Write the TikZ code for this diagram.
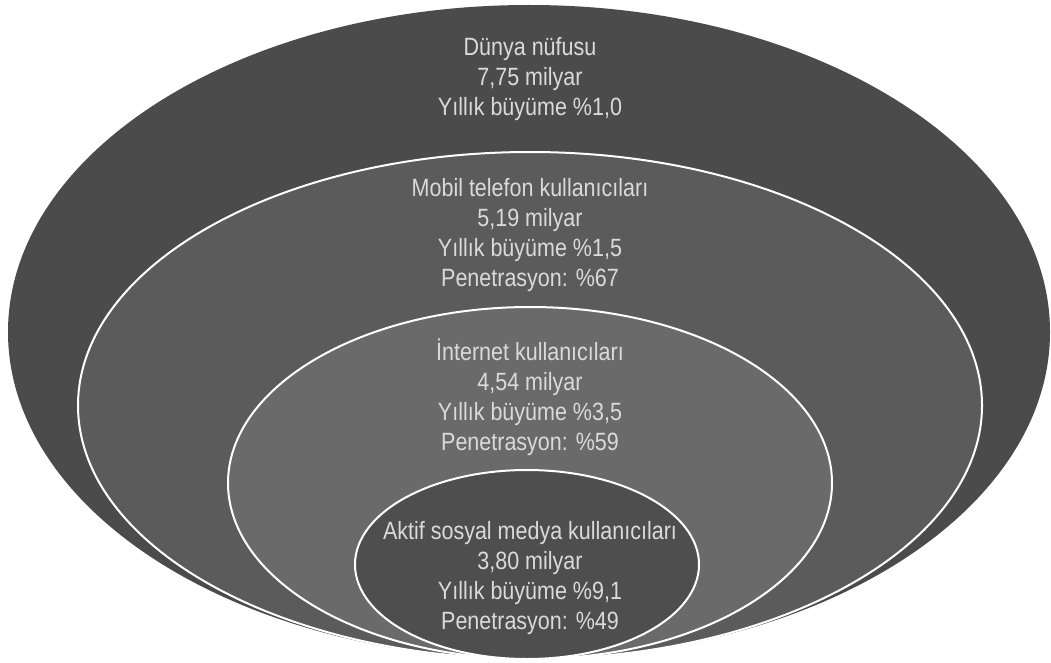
\documentclass[tikz,border=0pt]{standalone}
\usepackage{fontspec}
\setmainfont{Liberation Sans}[FakeStretch=0.86]
\usetikzlibrary{shapes.geometric}
\definecolor{cOuter}{HTML}{4B4B4B}
\definecolor{cMobile}{HTML}{5B5B5B}
\definecolor{cNet}{HTML}{6A6A6A}
\definecolor{cSocial}{HTML}{4E4E4E}
\definecolor{cText}{HTML}{DADADA}
\tikzset{
  ring/.style={ellipse, inner sep=0pt, outer sep=0pt},
  inring/.style={ring, draw=white, line width=2pt},
  lbl/.style={align=center, text=cText, inner sep=0pt,
    font=\fontsize{25}{30}\selectfont}
}
\begin{document}
\begin{tikzpicture}[x=1pt,y=-1pt]
\useasboundingbox (0,0) rectangle (1051,663);
\fill[white] (0,0) rectangle (1051,663);
\node[ring, fill=cOuter, minimum width=1042pt, minimum height=654pt] (world) at (529,332) {};
\node[inring, fill=cMobile, minimum width=904pt, minimum height=507pt] (mobile) at (530,405.5) {};
\node[inring, fill=cNet, minimum width=604pt, minimum height=352pt] (net) at (530,483) {};
\node[inring, fill=cSocial, minimum width=344pt, minimum height=189pt] (social) at (527,564.5) {};
\node[lbl] (tworld) at (530,79) {Dünya nüfusu\\7,75 milyar\\Yıllık büyüme \%1,0};
\node[lbl] (tmobile) at (530,235) {Mobil telefon kullanıcıları\\5,19 milyar\\Yıllık büyüme \%1,5\\Penetrasyon: \%67};
\node[lbl] (tnet) at (530,397) {İnternet kullanıcıları\\4,54 milyar\\Yıllık büyüme \%3,5\\Penetrasyon: \%59};
\node[lbl] (tsocial) at (530,578) {Aktif sosyal medya kullanıcıları\\3,80 milyar\\Yıllık büyüme \%9,1\\Penetrasyon: \%49};
\end{tikzpicture}
\end{document}
